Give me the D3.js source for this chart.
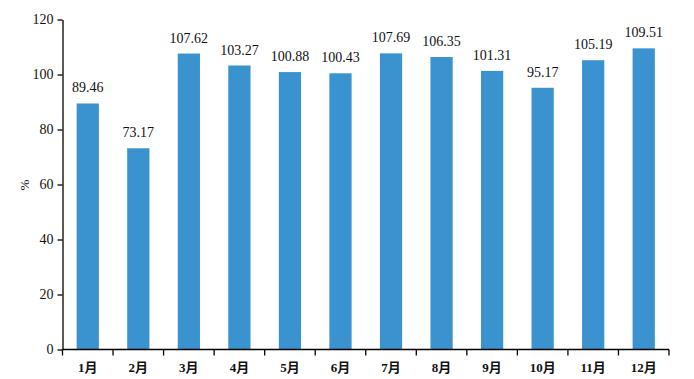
<!DOCTYPE html>
<html><head><meta charset="utf-8">
<script src="https://cdn.jsdelivr.net/npm/d3@7"></script>
<style>
body{margin:0;background:#fff;}
text{font-family:"Liberation Serif","Times New Roman","Noto Sans CJK SC",serif;}
</style></head>
<body><svg id="c" width="694" height="379"></svg>
<script>
const months = ["1月","2月","3月","4月","5月","6月","7月","8月","9月","10月","11月","12月"];
const values = [89.46,73.17,107.62,103.27,100.88,100.43,107.69,106.35,101.31,95.17,105.19,109.51];
const yTicks = [0,20,40,60,80,100,120];

(function(){
const svg = d3.select("#c");
const mLeft = 62.5, mRight = 669, mTop = 19.5, mBottom = 349.5;
const x = d3.scaleBand().domain(months).range([mLeft, mRight]).paddingInner(0.56).paddingOuter(0.28);
const y = d3.scaleLinear().domain([0,120]).range([mBottom, mTop]);

svg.selectAll("rect.bar").data(values).join("rect")
  .attr("class","bar")
  .attr("x",(d,i)=>x(months[i]))
  .attr("width",x.bandwidth())
  .attr("y",d=>y(d))
  .attr("height",d=>mBottom-y(d))
  .attr("fill","#3a92cf");

svg.selectAll("text.val").data(values).join("text")
  .attr("class","val")
  .attr("x",(d,i)=>x(months[i])+x.bandwidth()/2)
  .attr("y",d=>y(d)-11)
  .attr("text-anchor","middle")
  .attr("font-size","14px")
  .attr("fill","#111")
  .text(d=>d.toFixed(2));

const ya = svg.append("g").attr("transform",`translate(${mLeft},0)`)
  .call(d3.axisLeft(y).tickValues(yTicks).tickSize(5).tickPadding(4).tickSizeOuter(0));
ya.select(".domain").attr("stroke","#000").attr("stroke-width",1.3);
ya.selectAll(".tick line").attr("stroke","#000").attr("stroke-width",1.3);
ya.selectAll(".tick text").attr("font-size","14px").attr("fill","#111")
  .style("font-family",'"Liberation Serif","Times New Roman",serif');

const gap = (x.step()-x.bandwidth())/2;
const xa = svg.append("g").attr("transform",`translate(0,${mBottom})`);
xa.append("line").attr("x1",mLeft).attr("x2",mRight).attr("stroke","#000").attr("stroke-width",1.3);
const bounds = months.map(m=>x(m)-gap).concat([mRight]);
xa.selectAll("line.tk").data(bounds).join("line").attr("class","tk")
  .attr("x1",d=>d).attr("x2",d=>d).attr("y1",0).attr("y2",6)
  .attr("stroke","#000").attr("stroke-width",1.3);
xa.selectAll("text.ml").data(months).join("text").attr("class","ml")
  .attr("x",d=>x(d)+x.bandwidth()/2)
  .attr("y",22)
  .attr("text-anchor","middle")
  .attr("font-size","13px")
  .attr("font-weight","bold")
  .attr("fill","#111")
  .text(d=>d);

svg.append("text")
  .attr("transform","translate(29,185) rotate(-90)")
  .attr("text-anchor","middle")
  .attr("font-size","13px")
  .attr("fill","#111")
  .text("%");
})();
</script></body></html>
